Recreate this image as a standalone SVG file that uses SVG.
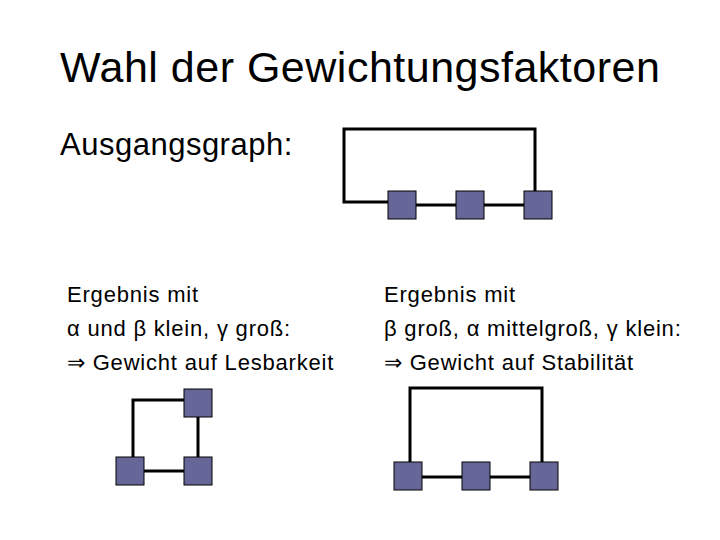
<svg xmlns="http://www.w3.org/2000/svg" width="720" height="540" viewBox="0 0 720 540">
<style>
.t{font-family:"Liberation Sans",Arial,sans-serif;fill:#000}
.b{font-size:22px;letter-spacing:0.8px}
.n{fill:#666699;stroke:#000;stroke-width:1}
.e{fill:none;stroke:#000;stroke-width:3}
</style>
<rect width="720" height="540" fill="#fff"/>
<text class="t" x="60" y="82" font-size="43" letter-spacing="0.5">Wahl der Gewichtungsfaktoren</text>
<text class="t" x="60" y="155" font-size="31" letter-spacing="0.5">Ausgangsgraph:</text>
<text class="t b" x="67" y="302">Ergebnis mit</text>
<text class="t b" x="67" y="336">α und β klein, γ groß:</text>
<text class="t b" x="67" y="370">⇒ Gewicht auf Lesbarkeit</text>
<text class="t b" x="384" y="302">Ergebnis mit</text>
<text class="t b" x="384" y="336">β groß, α mittelgroß, γ klein:</text>
<text class="t b" x="384" y="370">⇒ Gewicht auf Stabilität</text>
<g id="connectors">
<polyline class="e" points="388,202 344,202 344,129 535,129 535,191"/>
<line class="e" x1="416" y1="205" x2="456" y2="205"/>
<line class="e" x1="484" y1="205" x2="524" y2="205"/>
<polyline class="e" points="133,457 133,400 184,400"/>
<line class="e" x1="198" y1="417" x2="198" y2="457"/>
<line class="e" x1="144" y1="471" x2="184" y2="471"/>
<polyline class="e" points="410,462 410,388 542,388 542,462"/>
<line class="e" x1="422" y1="477" x2="462" y2="477"/>
<line class="e" x1="490" y1="477" x2="530" y2="477"/>
</g>
<g id="a1"><rect class="n" x="388" y="191" width="28" height="28"/></g>
<g id="a2"><rect class="n" x="456" y="191" width="28" height="28"/></g>
<g id="a3"><rect class="n" x="524" y="191" width="28" height="28"/></g>
<g id="b1"><rect class="n" x="116" y="457" width="28" height="28"/></g>
<g id="b2"><rect class="n" x="184" y="457" width="28" height="28"/></g>
<g id="b3"><rect class="n" x="184" y="389" width="28" height="28"/></g>
<g id="c1"><rect class="n" x="394" y="462" width="28" height="28"/></g>
<g id="c2"><rect class="n" x="462" y="462" width="28" height="28"/></g>
<g id="c3"><rect class="n" x="530" y="462" width="28" height="28"/></g>
</svg>
